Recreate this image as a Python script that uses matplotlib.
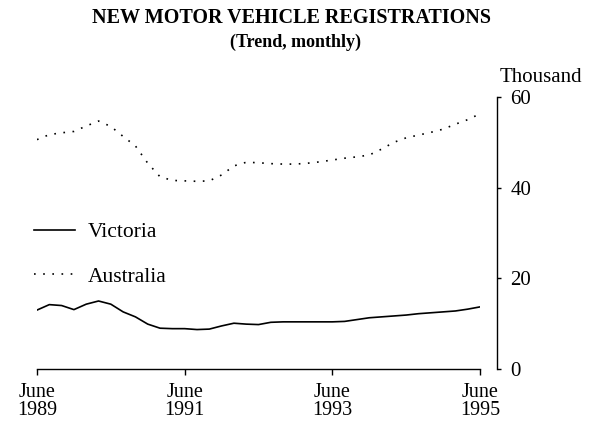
import matplotlib
matplotlib.use('Agg')
import matplotlib.pyplot as plt
import numpy as np

plt.rcParams['font.family'] = ['Liberation Serif', 'DejaVu Serif']

# months since June 1989, every second month
months = np.arange(0, 73, 2)

# thousand registrations, trend
australia = [50.6, 51.7, 52.1, 52.4, 53.6, 54.7, 53.5, 51.3, 49.2, 45.4,
             42.4, 41.6, 41.5, 41.4, 41.5, 42.8, 44.8, 45.6, 45.5, 45.3,
             45.2, 45.2, 45.4, 45.7, 46.1, 46.5, 46.8, 47.2, 48.5, 50.0,
             51.0, 51.6, 52.2, 52.9, 54.0, 55.0, 56.3]
victoria = [13.0, 14.2, 14.0, 13.1, 14.3, 15.0, 14.3, 12.6, 11.5, 9.9,
            9.0, 8.9, 8.9, 8.7, 8.8, 9.5, 10.1, 9.9, 9.8, 10.3,
            10.4, 10.4, 10.4, 10.4, 10.4, 10.5, 10.9, 11.3, 11.5, 11.7,
            11.9, 12.2, 12.4, 12.6, 12.8, 13.2, 13.7]

tick_months = [0, 24, 48, 72]
tick_labels = ['June\n1989', 'June\n1991', 'June\n1993', 'June\n1995']
y_ticks = [0, 20, 40, 60]

fig = plt.figure(figsize=(6, 4.28), dpi=100)
ax = fig.add_axes([37/600, 59/428, 443/600, 272/428])

ax.plot(months, victoria, color='black', lw=1.2, label='Victoria')
ax.plot(months, australia, color='black', lw=1.2, linestyle=(0, (1, 4.5)),
        label='Australia')

ax.set_xlim(0, 72)
ax.set_ylim(0, 60)

ax.spines['top'].set_visible(False)
ax.spines['left'].set_visible(False)
ax.spines['right'].set_position(('outward', 12))
ax.spines['right'].set_bounds(0, 60)
ax.spines['right'].set_linewidth(1.0)
ax.spines['bottom'].set_linewidth(1.0)

ax.yaxis.tick_right()
ax.set_yticks(y_ticks)
ax.tick_params(axis='y', direction='out', length=3, width=1, pad=7, labelsize=15)
ax.set_xticks(tick_months)
ax.set_xticklabels(tick_labels, linespacing=0.95)
ax.tick_params(axis='x', direction='out', length=4, width=1, pad=6, labelsize=14.5)

fig.text(541/600, 1 - 78/428, 'Thousand', ha='center', va='center', fontsize=15)

fig.text(292/600, 1 - 18/428, 'NEW MOTOR VEHICLE REGISTRATIONS', ha='center',
         va='center', fontsize=14.5, fontweight='bold')
fig.text(296/600, 1 - 42/428, '(Trend, monthly)', ha='center', va='center',
         fontsize=13, fontweight='bold')

ax.legend(loc='upper left', bbox_to_anchor=(34/600, 1 - 222/428),
          bbox_transform=fig.transFigure, frameon=False, fontsize=15.5,
          handlelength=1.9, handletextpad=0.6, labelspacing=1.15,
          borderpad=0, borderaxespad=0)

fig.savefig('out.png', dpi=100)
